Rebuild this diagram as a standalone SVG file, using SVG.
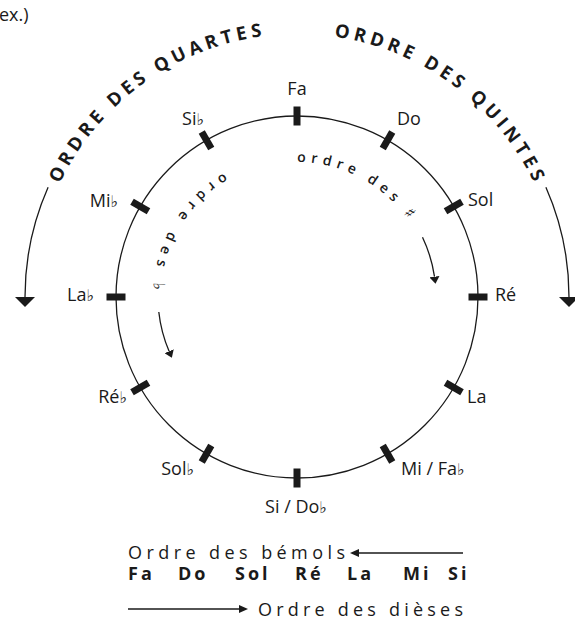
<svg xmlns="http://www.w3.org/2000/svg" width="575" height="622" viewBox="0 0 575 622">
<defs>
<style>
text{font-family:"Open Sans","Liberation Sans",sans-serif;fill:#1a1a1a}
.lbl{font-size:18px}
.fl{font-family:"DejaVu Sans",sans-serif;font-size:16px}
.arc{font-size:18.5px;font-weight:bold;letter-spacing:4.3px}
.inner{font-size:14px;font-weight:600}
.bot{font-size:18px}
.botb{font-size:18px;font-weight:bold}
.line{fill:none;stroke:#1a1a1a;stroke-width:1.3}
.tick{fill:#1a1a1a}
</style>
<marker id="ahBig" markerUnits="userSpaceOnUse" markerWidth="10" markerHeight="20" viewBox="0 0 10 20" refX="0" refY="10" orient="auto"><path d="M0,0 L10,10 L0,20 z" fill="#1a1a1a"/></marker>
<marker id="ahSmall" markerUnits="userSpaceOnUse" markerWidth="7" markerHeight="10" viewBox="0 0 7 10" refX="0" refY="5" orient="auto"><path d="M0,0 L7,5 L0,10 z" fill="#1a1a1a"/></marker>
<marker id="ahLine" markerUnits="userSpaceOnUse" markerWidth="9" markerHeight="8" viewBox="0 0 9 8" refX="0" refY="4" orient="auto"><path d="M0,0 L9,4 L0,8 z" fill="#1a1a1a"/></marker>
<path id="pQuartes" d="M59.6,183.8 A263,263 0 0 1 297,34"/>
<path id="pQuintes" d="M334.1,36.6 A263,263 0 0 1 556,251.3"/>
<path id="pSharp" d="M297,162 A135,135 0 0 1 429.9,273.6"/>
<path id="pFlat" d="M223.7,173.1 A144,144 0 0 0 172.3,369"/>
</defs>

<text class="lbl" x="-1" y="21">ex.)</text>

<g id="circle"><circle class="line" cx="297" cy="297" r="181"/></g>

<g id="connectors">
<path class="line" d="M48.1,187.2 A272,272 0 0 0 25,297" marker-end="url(#ahBig)"/>
<path class="line" d="M545.9,187.2 A272,272 0 0 1 569,297" marker-end="url(#ahBig)"/>
<path class="line" d="M422.5,237.2 A139,139 0 0 1 434.5,276.7" marker-end="url(#ahSmall)"/>
<path class="line" d="M158.8,312 A139,139 0 0 0 169.1,351.3" marker-end="url(#ahSmall)"/>
<path class="line" d="M463,553 L359,553" marker-end="url(#ahLine)"/>
<path class="line" d="M128,609 L239,609" marker-end="url(#ahLine)"/>
</g>

<g id="arc-labels">
<text class="arc"><textPath href="#pQuartes">ORDRE DES QUARTES</textPath></text>
<text class="arc"><textPath href="#pQuintes">ORDRE DES QUINTES</textPath></text>
<text class="inner" letter-spacing="5.3"><textPath href="#pSharp">ordre des <tspan class="fl" font-size="17">♯</tspan></textPath></text>
<text class="inner" letter-spacing="6.6"><textPath href="#pFlat">ordre des <tspan class="fl" font-size="17">♭</tspan></textPath></text>
</g>

<g id="n-fa"><rect class="tick" x="293.5" y="106.5" width="7" height="19"/><text class="lbl" x="297" y="95" text-anchor="middle">Fa</text></g>
<g id="n-do"><rect class="tick" x="293.5" y="106.5" width="7" height="19" transform="rotate(30 297 297)"/><text class="lbl" x="397" y="125">Do</text></g>
<g id="n-sol"><rect class="tick" x="293.5" y="106.5" width="7" height="19" transform="rotate(60 297 297)"/><text class="lbl" x="468" y="206">Sol</text></g>
<g id="n-re"><rect class="tick" x="293.5" y="106.5" width="7" height="19" transform="rotate(90 297 297)"/><text class="lbl" x="495" y="301">Ré</text></g>
<g id="n-la"><rect class="tick" x="293.5" y="106.5" width="7" height="19" transform="rotate(120 297 297)"/><text class="lbl" x="467" y="403">La</text></g>
<g id="n-mi"><rect class="tick" x="293.5" y="106.5" width="7" height="19" transform="rotate(150 297 297)"/><text class="lbl" x="401" y="475">Mi / Fa<tspan class="fl">♭</tspan></text></g>
<g id="n-si"><rect class="tick" x="293.5" y="106.5" width="7" height="19" transform="rotate(180 297 297)"/><text class="lbl" x="296" y="513" text-anchor="middle">Si / Do<tspan class="fl">♭</tspan></text></g>
<g id="n-solb"><rect class="tick" x="293.5" y="106.5" width="7" height="19" transform="rotate(210 297 297)"/><text class="lbl" x="194" y="475" text-anchor="end">Sol<tspan class="fl">♭</tspan></text></g>
<g id="n-reb"><rect class="tick" x="293.5" y="106.5" width="7" height="19" transform="rotate(240 297 297)"/><text class="lbl" x="127" y="403" text-anchor="end">Ré<tspan class="fl">♭</tspan></text></g>
<g id="n-lab"><rect class="tick" x="293.5" y="106.5" width="7" height="19" transform="rotate(270 297 297)"/><text class="lbl" x="94" y="301" text-anchor="end">La<tspan class="fl">♭</tspan></text></g>
<g id="n-mib"><rect class="tick" x="293.5" y="106.5" width="7" height="19" transform="rotate(300 297 297)"/><text class="lbl" x="118" y="207" text-anchor="end">Mi<tspan class="fl">♭</tspan></text></g>
<g id="n-sib"><rect class="tick" x="293.5" y="106.5" width="7" height="19" transform="rotate(330 297 297)"/><text class="lbl" x="204" y="125" text-anchor="end">Si<tspan class="fl">♭</tspan></text></g>

<g id="legend">
<text class="bot" x="128" y="559" textLength="217" lengthAdjust="spacing">Ordre des bémols</text>
<text class="botb"><tspan x="128" y="580" letter-spacing="3">Fa</tspan><tspan x="178" y="580" letter-spacing="3">Do</tspan><tspan x="235" y="580" letter-spacing="3">Sol</tspan><tspan x="295" y="580" letter-spacing="3">Ré</tspan><tspan x="347" y="580" letter-spacing="3">La</tspan><tspan x="403" y="580" letter-spacing="3">Mi</tspan><tspan x="448" y="580" letter-spacing="3">Si</tspan></text>
<text class="bot" x="258" y="616" textLength="205" lengthAdjust="spacing">Ordre des dièses</text>
</g>
</svg>
